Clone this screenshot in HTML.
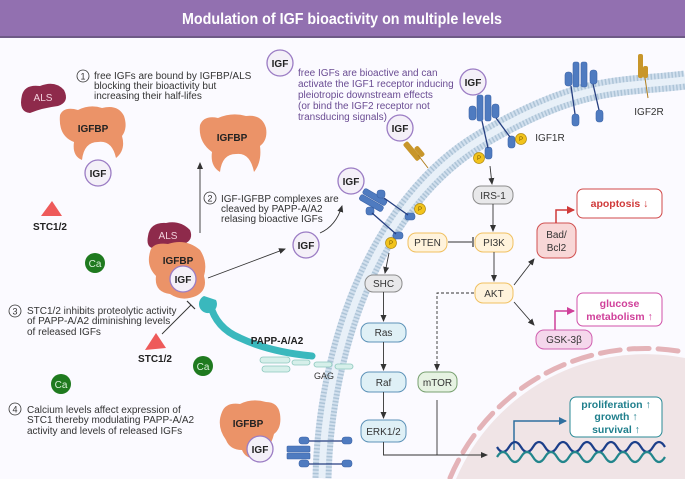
<!DOCTYPE html>
<html><head><meta charset="utf-8"><style>
html,body{margin:0;padding:0;background:#fbfaff;width:685px;height:479px;overflow:hidden;}
svg{display:block;font-family:"Liberation Sans",sans-serif;}
</style></head><body>
<svg width="685" height="479" viewBox="0 0 685 479" xmlns="http://www.w3.org/2000/svg">
<defs>
<marker id="ar" markerWidth="8" markerHeight="8" refX="6" refY="4" orient="auto" markerUnits="userSpaceOnUse"><path d="M0,1 L7,4 L0,7 z" fill="#333"/></marker>
<marker id="arR" markerWidth="10" markerHeight="10" refX="7" refY="5" orient="auto" markerUnits="userSpaceOnUse"><path d="M0,1 L8,5 L0,9 z" fill="#d03a3a"/></marker>
<marker id="arP" markerWidth="10" markerHeight="10" refX="7" refY="5" orient="auto" markerUnits="userSpaceOnUse"><path d="M0,1 L8,5 L0,9 z" fill="#d0409a"/></marker>
<marker id="arB" markerWidth="10" markerHeight="10" refX="7" refY="5" orient="auto" markerUnits="userSpaceOnUse"><path d="M0,1 L8,5 L0,9 z" fill="#2f6f9f"/></marker>
</defs>
<rect width="685" height="479" fill="#fbfaff"/>
<rect x="0" y="0" width="685" height="37" fill="#9270b0"/>
<rect x="0" y="36" width="685" height="2" fill="#6e5a86"/>
<text x="342" y="24" font-size="16" font-weight="bold" fill="#fff" text-anchor="middle" textLength="320" lengthAdjust="spacingAndGlyphs">Modulation of IGF bioactivity on multiple levels</text>

<path d="M456 479 A206 206 0 0 1 685 358 L685 479 Z" fill="#f0e4e6"/>
<path d="M450 478 A212 212 0 0 1 684 352" fill="none" stroke="#e4b3b8" stroke-width="5" stroke-dasharray="20 9" stroke-linecap="round"/>

<path d="M322 478 C325 340 380 200 480 140 S620 88 685 80" fill="none" stroke="#d2e0ee" stroke-width="19"/>
<path d="M322 478 C325 340 380 200 480 140 S620 88 685 80" fill="none" stroke="#94b0c8" stroke-width="19" stroke-dasharray="1.5 2" opacity="0.6"/>
<path d="M322 478 C325 340 380 200 480 140 S620 88 685 80" fill="none" stroke="#e8f0f8" stroke-width="7"/>

<g font-size="10" fill="#333">
<circle cx="83" cy="76" r="6" fill="none" stroke="#333" stroke-width="0.8"/><text x="83" y="79.5" font-size="9" text-anchor="middle">1</text>
<text x="94" y="79">free IGFs are bound by IGFBP/ALS</text>
<text x="94" y="89">blocking their bioactivity but</text>
<text x="94" y="99">increasing their half-lifes</text>
<circle cx="210" cy="198" r="6" fill="none" stroke="#333" stroke-width="0.8"/><text x="210" y="201.5" font-size="9" text-anchor="middle">2</text>
<text x="221" y="202">IGF-IGFBP complexes are</text>
<text x="221" y="212">cleaved by PAPP-A/A2</text>
<text x="221" y="222">relasing bioactive IGFs</text>
<circle cx="15" cy="311" r="6" fill="none" stroke="#333" stroke-width="0.8"/><text x="15" y="314.5" font-size="9" text-anchor="middle">3</text>
<text x="27" y="314">STC1/2 inhibits proteolytic activity</text>
<text x="27" y="324">of PAPP-A/A2 diminishing levels</text>
<text x="27" y="335">of released IGFs</text>
<circle cx="15" cy="409" r="6" fill="none" stroke="#333" stroke-width="0.8"/><text x="15" y="412.5" font-size="9" text-anchor="middle">4</text>
<text x="27" y="413">Calcium levels affect expression of</text>
<text x="27" y="423">STC1 thereby modulating PAPP-A/A2</text>
<text x="27" y="434">activity and levels of released IGFs</text>
</g>
<g font-size="10" fill="#6a4c93">
<text x="298" y="76">free IGFs are bioactive and can</text>
<text x="298" y="87">activate the IGF1 receptor inducing</text>
<text x="298" y="98">pleiotropic downstream effects</text>
<text x="298" y="109">(or bind the IGF2 receptor not</text>
<text x="298" y="120">transducing signals)</text>
</g>

<g>
<path d="M22 95 Q25 84 40 86 Q55 80 64 90 Q70 102 58 106 Q42 108 30 113 Q18 112 22 95z" fill="#8e2a4b"/>
<text x="43" y="101" font-size="10" fill="#f2d0dc" text-anchor="middle">ALS</text>
<path d="M60 115 Q64 106 78 110 Q90 104 102 108 Q118 104 124 116 Q128 128 122 136 Q126 150 116 158 Q112 140 98 142 Q84 142 82 160 Q72 156 74 142 Q58 136 60 115z" fill="#eb9368"/>
<text x="93" y="132" font-size="10" font-weight="bold" fill="#222" text-anchor="middle">IGFBP</text>
<path d="M200 125 Q204 115 218 118 Q232 112 246 116 Q262 114 266 128 Q268 140 260 146 Q262 162 254 172 Q250 152 236 154 Q222 154 220 172 Q210 166 212 152 Q198 142 200 125z" fill="#eb9368"/>
<text x="232" y="141" font-size="10" font-weight="bold" fill="#222" text-anchor="middle">IGFBP</text>
<path d="M148 236 Q150 222 166 223 Q180 220 190 230 Q194 240 184 244 Q166 246 152 248 Q146 246 148 236z" fill="#8e2a4b"/>
<text x="168" y="239" font-size="10" fill="#f2d0dc" text-anchor="middle">ALS</text>
<path d="M150 252 Q152 242 168 244 Q186 238 200 250 Q208 262 204 276 Q208 290 196 296 Q182 302 170 294 Q154 292 156 276 Q146 266 150 252z" fill="#eb9368"/>
<text x="178" y="264" font-size="10" font-weight="bold" fill="#222" text-anchor="middle">IGFBP</text>
<path d="M222 412 Q226 402 240 404 Q252 398 266 402 Q278 402 280 414 Q282 428 274 434 Q270 450 258 458 Q246 460 242 450 Q230 450 226 440 Q216 426 222 412z" fill="#eb9368"/>
<text x="248" y="427" font-size="10" font-weight="bold" fill="#222" text-anchor="middle">IGFBP</text>
</g>

<g font-size="10" font-weight="bold" fill="#222" text-anchor="middle">
<g fill="#f4f0f8" stroke="#9b7cc4" stroke-width="1.3">
<circle cx="98" cy="173" r="13"/><circle cx="280" cy="63" r="13"/><circle cx="400" cy="128" r="13"/>
<circle cx="473" cy="82" r="13"/><circle cx="351" cy="181" r="13"/><circle cx="306" cy="245" r="13"/>
<circle cx="183" cy="279" r="13"/><circle cx="260" cy="449" r="13"/>
</g>
<text x="98" y="177">IGF</text><text x="280" y="67">IGF</text><text x="400" y="132">IGF</text>
<text x="473" y="86">IGF</text><text x="351" y="185">IGF</text><text x="306" y="249">IGF</text>
<text x="183" y="283">IGF</text><text x="260" y="453">IGF</text>
</g>

<path d="M41 216 L52 201 L62 216 z" fill="#ee5a5a"/>
<text x="50" y="230" font-size="10" font-weight="bold" fill="#222" text-anchor="middle">STC1/2</text>
<path d="M145 350 L156 333 L166 348 z" fill="#ee5a5a"/>
<text x="155" y="362" font-size="10" font-weight="bold" fill="#222" text-anchor="middle">STC1/2</text>
<line x1="162" y1="334" x2="191" y2="305" stroke="#333" stroke-width="0.9"/>
<line x1="187" y1="301" x2="195" y2="309" stroke="#333" stroke-width="1.2"/>
<g font-size="10" fill="#d8f0d8" text-anchor="middle">
<circle cx="95" cy="263" r="10" fill="#1f7a1f"/><text x="95" y="267">Ca</text>
<circle cx="203" cy="366" r="10" fill="#1f7a1f"/><text x="203" y="370">Ca</text>
<circle cx="61" cy="384" r="10" fill="#1f7a1f"/><text x="61" y="388">Ca</text>
</g>

<line x1="200" y1="233" x2="200" y2="163" stroke="#333" stroke-width="0.9" marker-end="url(#ar)"/>
<line x1="208" y1="278" x2="285" y2="249" stroke="#333" stroke-width="0.9" marker-end="url(#ar)"/>
<path d="M320 233 Q336 226 342 206" fill="none" stroke="#333" stroke-width="0.9" marker-end="url(#ar)"/>

<path d="M210 304 Q216 328 240 338 Q270 352 312 356" fill="none" stroke="#3ab8bd" stroke-width="7" stroke-linecap="round"/>
<path d="M204 296 a9 9 0 1 0 12 4 l-6 -2z" fill="#3ab8bd"/>
<g fill="#d6efea" stroke="#8cc7bd" stroke-width="0.8">
<rect x="260" y="357" width="30" height="6" rx="3"/><rect x="262" y="366" width="28" height="6" rx="3"/>
<rect x="292" y="360" width="18" height="5" rx="2.5"/><rect x="314" y="362" width="18" height="5" rx="2.5"/><rect x="335" y="364" width="18" height="5" rx="2.5"/>
</g>
<text x="277" y="344" font-size="10" font-weight="bold" fill="#222" text-anchor="middle">PAPP-A/A2</text>
<text x="324" y="379" font-size="9" fill="#333" text-anchor="middle">GAG</text>

<g fill="#4f7bc0" stroke="#3c64a8" stroke-width="0.6">
<rect x="477" y="95" width="6" height="26" rx="2"/><rect x="485" y="95" width="6" height="26" rx="2"/>
<rect x="469" y="106" width="7" height="14" rx="3"/><rect x="492" y="104" width="7" height="14" rx="3"/>
<rect x="485" y="147" width="7" height="12" rx="3"/><rect x="508" y="136" width="7" height="12" rx="3"/>
<rect x="573" y="62" width="6" height="25" rx="2"/><rect x="581" y="62" width="6" height="25" rx="2"/>
<rect x="565" y="72" width="7" height="14" rx="3"/><rect x="590" y="70" width="7" height="14" rx="3"/>
<rect x="572" y="114" width="7" height="12" rx="3"/><rect x="596" y="110" width="7" height="12" rx="3"/>
<g transform="rotate(30 372 200)"><rect x="360" y="193" width="26" height="6" rx="2"/><rect x="360" y="200" width="26" height="6" rx="2"/></g>
<rect x="377" y="190" width="8" height="8" rx="3"/><rect x="366" y="207" width="8" height="8" rx="3"/>
<rect x="405" y="213" width="10" height="7" rx="3"/><rect x="393" y="232" width="10" height="7" rx="3"/>
<rect x="287" y="446" width="23" height="6" rx="1"/><rect x="287" y="453" width="23" height="6" rx="1"/>
<rect x="299" y="437" width="10" height="7" rx="3"/><rect x="299" y="460" width="10" height="7" rx="3"/>
<rect x="342" y="437" width="10" height="7" rx="3"/><rect x="342" y="460" width="10" height="7" rx="3"/>
</g>
<g stroke="#263f80" stroke-width="1.3">
<line x1="482" y1="121" x2="488" y2="148"/><line x1="496" y1="118" x2="510" y2="137"/>
<line x1="571" y1="86" x2="575" y2="114"/><line x1="593" y1="84" x2="599" y2="110"/>
<line x1="384" y1="198" x2="408" y2="215"/><line x1="372" y1="213" x2="396" y2="234"/>
<line x1="309" y1="441" x2="342" y2="441"/><line x1="309" y1="464" x2="342" y2="464"/>
</g>
<g fill="#c8962a">
<rect x="638" y="54" width="5" height="24" rx="2"/><rect x="643" y="66" width="5" height="12" rx="2"/>
<g transform="rotate(-40 415 150)"><rect x="409" y="138" width="6" height="22" rx="2"/><rect x="415" y="148" width="5" height="12" rx="2"/></g>
</g>
<line x1="645" y1="78" x2="648" y2="98" stroke="#b07f20" stroke-width="1"/>
<line x1="418" y1="155" x2="428" y2="168" stroke="#b07f20" stroke-width="1"/>
<g font-size="6" fill="#7a5a00" text-anchor="middle">
<g fill="#f2c31c" stroke="#b08a10" stroke-width="0.7">
<circle cx="479" cy="158" r="5.5"/><circle cx="521" cy="139" r="5.5"/><circle cx="420" cy="209" r="5.5"/><circle cx="391" cy="243" r="5.5"/>
</g>
<text x="479" y="160">P</text><text x="521" y="141">P</text><text x="420" y="211">P</text><text x="391" y="245">P</text>
</g>
<text x="550" y="141" font-size="10" fill="#333" text-anchor="middle">IGF1R</text>
<text x="649" y="115" font-size="10" fill="#333" text-anchor="middle">IGF2R</text>

<g font-size="10" fill="#333" text-anchor="middle">
<rect x="473" y="186" width="40" height="18" rx="8" fill="#e8e8ea" stroke="#8c8c8c"/><text x="493" y="199">IRS-1</text>
<rect x="408" y="233" width="39" height="19" rx="8" fill="#fff3dc" stroke="#f0c060"/><text x="427.5" y="246">PTEN</text>
<rect x="475" y="233" width="38" height="19" rx="8" fill="#fff3dc" stroke="#f0c060"/><text x="494" y="246">PI3K</text>
<rect x="475" y="283" width="38" height="20" rx="8" fill="#fff3dc" stroke="#f0c060"/><text x="494" y="297">AKT</text>
<rect x="537" y="223" width="39" height="35" rx="8" fill="#f8d7d7" stroke="#d05050"/><text x="556.5" y="238">Bad/</text><text x="556.5" y="251">Bcl2</text>
<rect x="536" y="330" width="56" height="19" rx="8" fill="#f5d7ec" stroke="#d060b0"/><text x="564" y="343">GSK-3β</text>
<rect x="365" y="275" width="37" height="17" rx="8" fill="#e8e8ea" stroke="#8c8c8c"/><text x="383.5" y="287">SHC</text>
<rect x="361" y="323" width="45" height="19" rx="8" fill="#dff0f6" stroke="#5c92b8"/><text x="383.5" y="336">Ras</text>
<rect x="361" y="372" width="45" height="20" rx="8" fill="#dff0f6" stroke="#5c92b8"/><text x="383.5" y="386">Raf</text>
<rect x="361" y="420" width="45" height="22" rx="8" fill="#dff0f6" stroke="#5c92b8"/><text x="383.5" y="435">ERK1/2</text>
<rect x="418" y="372" width="39" height="20" rx="8" fill="#e6f2e2" stroke="#78a070"/><text x="437.5" y="386">mTOR</text>
</g>
<rect x="577" y="189" width="85" height="29" rx="6" fill="#fff" stroke="#d04848"/>
<text x="619.5" y="207" font-size="10.5" font-weight="bold" fill="#d03a3a" text-anchor="middle">apoptosis ↓</text>
<rect x="577" y="293" width="85" height="33" rx="6" fill="#fff" stroke="#d050a8"/>
<text x="619.5" y="307" font-size="10.5" font-weight="bold" fill="#d0409a" text-anchor="middle">glucose</text>
<text x="619.5" y="320" font-size="10.5" font-weight="bold" fill="#d0409a" text-anchor="middle">metabolism ↑</text>
<rect x="570" y="397" width="92" height="40" rx="6" fill="#fff" stroke="#2a8a96"/>
<g font-size="10.5" font-weight="bold" fill="#1f7f8c" text-anchor="middle">
<text x="616" y="408">proliferation ↑</text><text x="616" y="420">growth ↑</text><text x="616" y="433">survival ↑</text>
</g>

<g stroke="#333" stroke-width="0.9" fill="none">
<line x1="490" y1="166" x2="492" y2="184" marker-end="url(#ar)"/>
<line x1="493" y1="204" x2="493" y2="231" marker-end="url(#ar)"/>
<line x1="448" y1="242" x2="472" y2="242"/>
<line x1="473" y1="237" x2="473" y2="247" stroke-width="1.2"/>
<line x1="494" y1="252" x2="494" y2="281" marker-end="url(#ar)"/>
<line x1="514" y1="285" x2="534" y2="259" marker-end="url(#ar)"/>
<line x1="514" y1="302" x2="534" y2="325" marker-end="url(#ar)"/>
<line x1="389" y1="253" x2="385" y2="273" marker-end="url(#ar)"/>
<line x1="383.5" y1="292" x2="383.5" y2="321" marker-end="url(#ar)"/>
<line x1="383.5" y1="342" x2="383.5" y2="370" marker-end="url(#ar)"/>
<line x1="383.5" y1="392" x2="383.5" y2="418" marker-end="url(#ar)"/>
<path d="M474 293 L437 293 L437 370" stroke-dasharray="3 2" marker-end="url(#ar)"/>
<path d="M383.5 442 L383.5 455 L487 455" marker-end="url(#ar)"/>
<path d="M437 400 L437 455"/>
</g>
<path d="M556 223 L556 210 L574 210" fill="none" stroke="#d03a3a" stroke-width="1.5" marker-end="url(#arR)"/>
<path d="M555 330 L555 311 L574 311" fill="none" stroke="#d0409a" stroke-width="1.5" marker-end="url(#arP)"/>
<path d="M514 450 L514 421 L566 421" fill="none" stroke="#2f6f9f" stroke-width="1.5" marker-end="url(#arB)"/>

<path d="M497 447 q6 10 12 0 t12 0 t12 0 t12 0 t12 0 t12 0 t12 0 t12 0 t12 0 t12 0 t12 0 t12 0 t12 0 t12 0" fill="none" stroke="#1c3f8a" stroke-width="2.2"/>
<path d="M497 457 q6 -10 12 0 t12 0 t12 0 t12 0 t12 0 t12 0 t12 0 t12 0 t12 0 t12 0 t12 0 t12 0 t12 0 t12 0" fill="none" stroke="#23868c" stroke-width="2.2"/>
</svg>
</body></html>
